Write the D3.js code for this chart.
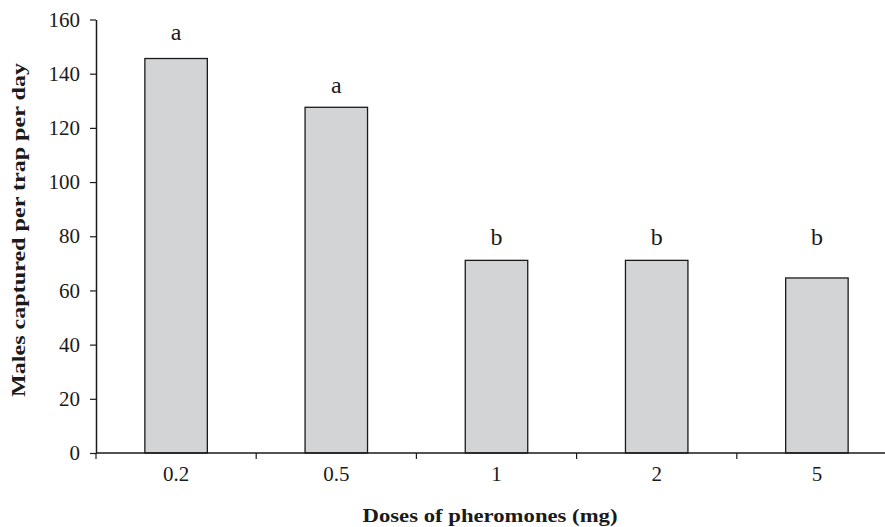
<!DOCTYPE html>
<html>
<head>
<meta charset="utf-8">
<script src="https://cdn.jsdelivr.net/npm/d3@7"></script>
<style>
  body { margin: 0; background: #fff; }
  svg { display: block; }
  text { font-family: "Liberation Serif", "Times New Roman", serif; fill: #1a1a1a; }
</style>
</head>
<body>
<div id="chart"></div>
<script>
const width = 885,
    height = 527,
    margin = ({ top: 19.5, right: -12, bottom: 74, left: 96 });

// data
const doses = ["0.2", "0.5", "1", "2", "5"];
const males = [145.6, 127.6, 71.1, 71.1, 64.6];
const letters = ["a", "a", "b", "b", "b"];
const letterAt = [152.5, 133, 76.8, 76.8, 76.8]; // letter baselines, in y units
const yTicks = [0, 20, 40, 60, 80, 100, 120, 140, 160];

const svg = d3.select("#chart")
    .append("svg")
    .attr("width", width)
    .attr("height", height);

let x = d3.scaleBand()
    .domain(doses)
    .range([margin.left, width - margin.right])
    .paddingInner(0.61)
    .paddingOuter(0.305);

let y = d3.scaleLinear()
    .domain([0, 160])
    .range([height - margin.bottom, margin.top]);

// y axis
const yAxis = svg.append("g")
    .attr("transform", `translate(${margin.left},0)`)
    .call(d3.axisLeft(y).tickValues(yTicks).tickSize(6).tickPadding(10).tickSizeOuter(0));
yAxis.select(".domain").attr("stroke", "#1a1a1a").attr("stroke-width", 1.5);
yAxis.selectAll(".tick line").attr("stroke", "#1a1a1a").attr("stroke-width", 1.2);
yAxis.selectAll(".tick text").attr("font-size", 21).attr("font-family", "Liberation Serif").attr("fill", "#1a1a1a");

// bars
svg.append("g")
    .selectAll("rect")
    .data(males)
    .join("rect")
    .attr("x", (d, i) => x(doses[i]))
    .attr("y", d => y(d))
    .attr("width", x.bandwidth())
    .attr("height", d => y(0) - y(d))
    .attr("fill", "#d3d4d6")
    .attr("stroke", "#1a1a1a")
    .attr("stroke-width", 1.3);

// x axis, ticks sit between the bars
const xg = svg.append("g")
    .attr("transform", `translate(0,${y(0)})`);
xg.append("line")
    .attr("x1", margin.left)
    .attr("x2", width)
    .attr("stroke", "#1a1a1a")
    .attr("stroke-width", 1.5);
xg.selectAll(".bt")
    .data(doses)
    .join("line")
    .attr("class", "bt")
    .attr("x1", d => x(d) - x.step() * x.paddingOuter())
    .attr("x2", d => x(d) - x.step() * x.paddingOuter())
    .attr("y1", 0)
    .attr("y2", 6)
    .attr("stroke", "#1a1a1a")
    .attr("stroke-width", 1.2);
xg.selectAll(".lbl")
    .data(doses)
    .join("text")
    .attr("class", "lbl")
    .attr("x", d => x(d) + x.bandwidth() / 2)
    .attr("y", 28)
    .attr("text-anchor", "middle")
    .attr("font-size", 21)
    .text(d => d);

// significance letters
svg.append("g")
    .selectAll("text")
    .data(letters)
    .join("text")
    .attr("x", (d, i) => x(doses[i]) + x.bandwidth() / 2)
    .attr("y", (d, i) => y(letterAt[i]))
    .attr("text-anchor", "middle")
    .attr("font-size", 24)
    .text(d => d);

// axis titles
svg.append("text")
    .attr("x", 490)
    .attr("y", 522)
    .attr("text-anchor", "middle")
    .attr("font-size", 19)
    .attr("font-weight", "bold")
    .attr("textLength", 255)
    .attr("lengthAdjust", "spacingAndGlyphs")
    .text("Doses of pheromones (mg)");

svg.append("text")
    .attr("transform", "rotate(-90)")
    .attr("x", -230)
    .attr("y", 25)
    .attr("text-anchor", "middle")
    .attr("font-size", 19)
    .attr("font-weight", "bold")
    .attr("textLength", 334)
    .attr("lengthAdjust", "spacingAndGlyphs")
    .text("Males captured per trap per day");
</script>
</body>
</html>
